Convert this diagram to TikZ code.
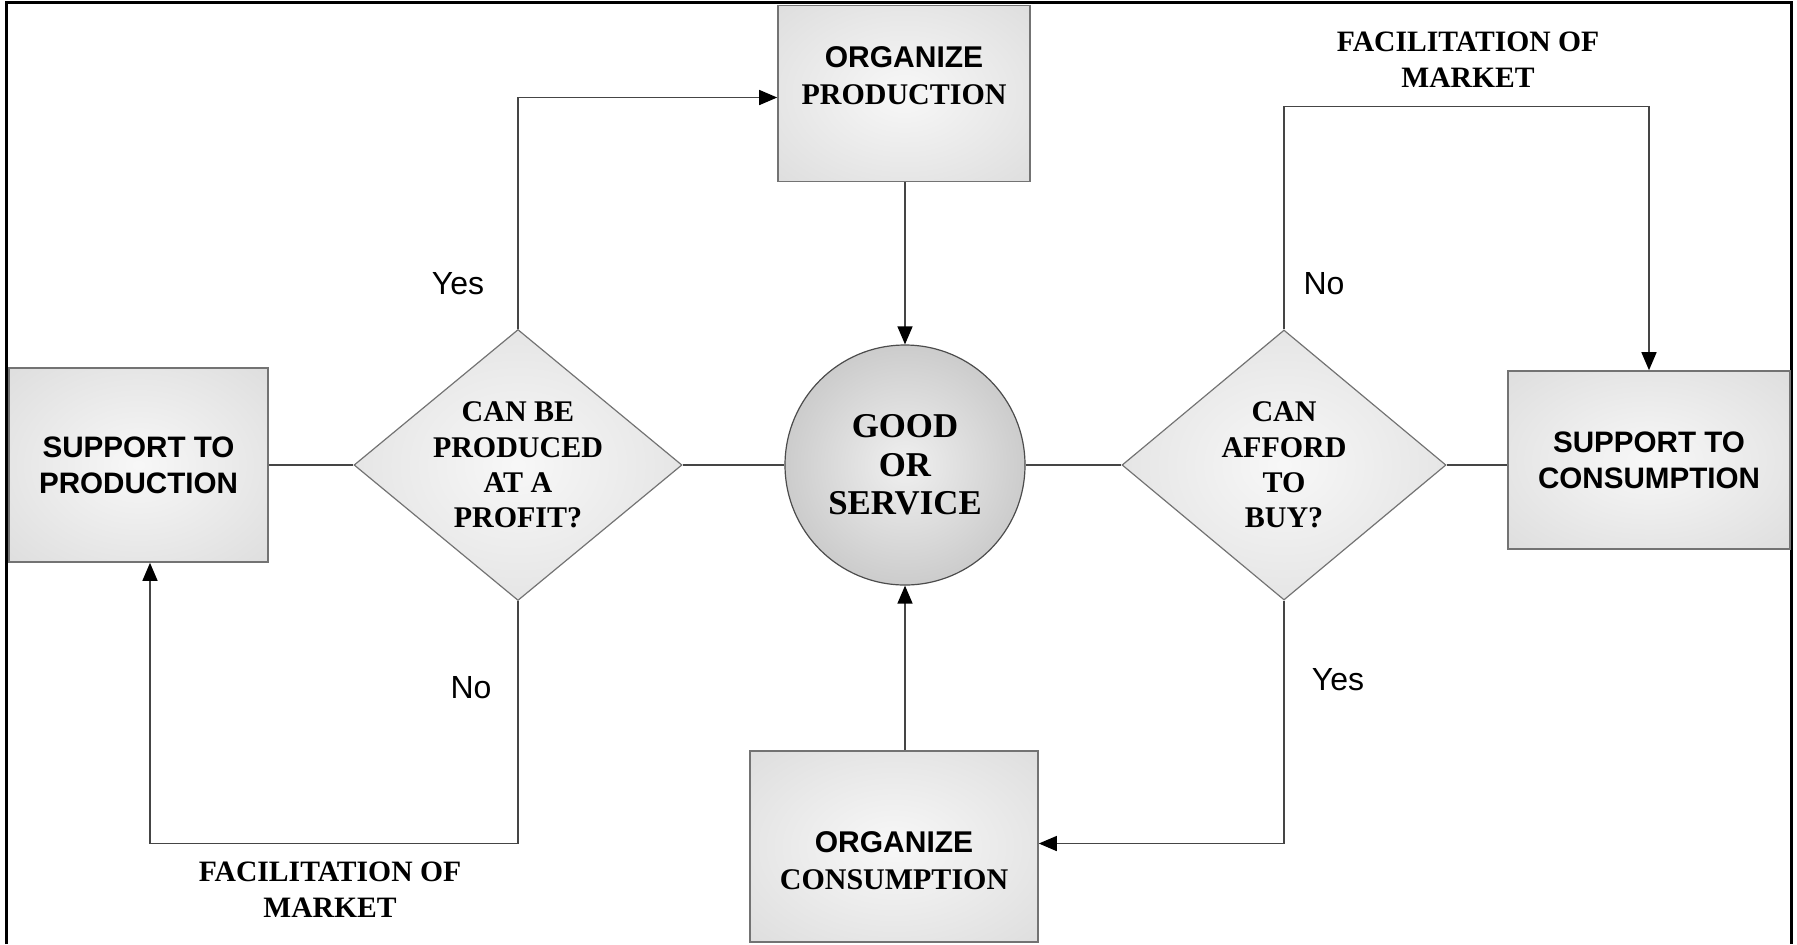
\documentclass[tikz,border=0pt]{standalone}
\usepackage{fontspec}
\setmainfont{Liberation Serif}
\setsansfont{Liberation Sans}
\usepackage{tikz}
\usetikzlibrary{positioning}
\usetikzlibrary{shapes.geometric}
\usetikzlibrary{arrows.meta}

\definecolor{linegray}{gray}{0.27}
\definecolor{edgegray}{gray}{0.45}
\colorlet{boxin}{white!97!black}
\colorlet{boxout}{black!17}
\colorlet{ballin}{white!94!black}
\colorlet{ballout}{black!34}
\pgfdeclareradialshading{boxglow}{\pgfpointorigin}{color(0bp)=(boxin); color(50bp)=(boxout)}
\pgfdeclareradialshading{ballglow}{\pgfpointorigin}{color(0bp)=(ballin); color(50bp)=(ballout)}

\newcommand{\boxfont}{\sffamily\bfseries\fontsize{14.8}{17.8}\selectfont}
\newcommand{\orgfont}{\bfseries\fontsize{15}{18.6}\selectfont}
\newcommand{\askfont}{\bfseries\fontsize{15}{17.6}\selectfont}
\newcommand{\ballfont}{\bfseries\fontsize{17.4}{19.2}\selectfont}
\newcommand{\notefont}{\bfseries\fontsize{14.8}{17.8}\selectfont}
\newcommand{\replyfont}{\sffamily\fontsize{16}{19}\selectfont}

\tikzset{
  frameline/.style={line width=1.5pt,black},
  blockbox/.style={rectangle,draw=edgegray,line width=0.8pt,shade,shading=boxglow,inner sep=0pt,align=center},
  askbox/.style={diamond,aspect=1.2,draw=edgegray,line width=0.6pt,shade,shading=boxglow,inner sep=0pt,align=center,font=\askfont},
  goodball/.style={circle,draw=black!70,line width=0.6pt,shade,shading=ballglow,inner sep=0pt,align=center,font=\ballfont},
  reply/.style={font=\replyfont,inner sep=0pt},
  note/.style={font=\notefont,align=center,inner sep=0pt},
  link/.style={draw=linegray,line width=0.7pt},
  flow/.style={link,-{Triangle[length=9pt,width=7.5pt,black]}}
}

\begin{document}
\begin{tikzpicture}[x=0.5pt,y=-0.5pt]
        \useasboundingbox (0,0) rectangle (1797,944);
        \draw[frameline] (6,944) -- (6,2) -- (1791,2) -- (1791,944);

        \node[blockbox,minimum width=129.5pt,minimum height=97pt,font=\boxfont] (supprod) at (138.5,465) {SUPPORT TO\\PRODUCTION};
        \node[askbox,minimum width=164pt,minimum height=135.5pt] (profit) at (518,465) {CAN BE\\PRODUCED\\AT A\\PROFIT?};
        \node[goodball,minimum size=120pt] (goods) at (905,465) {GOOD\\OR\\SERVICE};
        \node[askbox,minimum width=162pt,minimum height=135pt] (afford) at (1284,465) {CAN\\AFFORD\\TO\\BUY?};
        \node[blockbox,minimum width=141pt,minimum height=89pt,font=\boxfont] (suppcons) at (1649,460) {SUPPORT TO\\CONSUMPTION};
        \node[blockbox,minimum width=126pt,minimum height=88pt,font=\orgfont] (orgprod) at (904,93.5) {{\sffamily ORGANIZE}\\PRODUCTION\rule[-18pt]{0pt}{18pt}};
        \node[blockbox,minimum width=144pt,minimum height=95.5pt,font=\orgfont] (orgcons) at (894,846.5) {\rule{0pt}{25pt}{\sffamily ORGANIZE}\\CONSUMPTION};

        \node[reply] (yesmake) at (458,284) {Yes};
        \node[reply] (nomake) at (471,688) {No};
        \node[reply] (nobuy) at (1324,284) {No};
        \node[reply] (yesbuy) at (1338,680) {Yes};
        \node[note] (marketlow) at (330,889.5) {FACILITATION OF\\MARKET};
        \node[note] (markettop) at (1468,59.5) {FACILITATION OF\\MARKET};

        \coordinate (highline) at (0,106.6);
        \coordinate (lowline) at (0,843.5);
        \coordinate (prodfoot) at ([xshift=5.75pt]supprod.south);
        \coordinate (prodentry) at ([yshift=-2pt]orgprod.west);

        \draw[link] (supprod.east) -- (profit.west);
        \draw[link] (profit.east) -- (goods.west);
        \draw[link] (goods.east) -- (afford.west);
        \draw[link] (afford.east) -- (afford.east -| suppcons.west);
        \draw[flow] (profit.north) |- (prodentry);
        \draw[flow] (orgprod.south -| goods.north) -- (goods.north);
        \draw[flow] (orgcons.north -| goods.south) -- (goods.south);
        \draw[flow] (afford.north) |- (highline -| suppcons.north) -- (suppcons.north);
        \draw[flow] (afford.south) |- (orgcons.east |- lowline);
        \draw[flow] (profit.south) |- (prodfoot |- lowline) -- (prodfoot);
\end{tikzpicture}
\end{document}
